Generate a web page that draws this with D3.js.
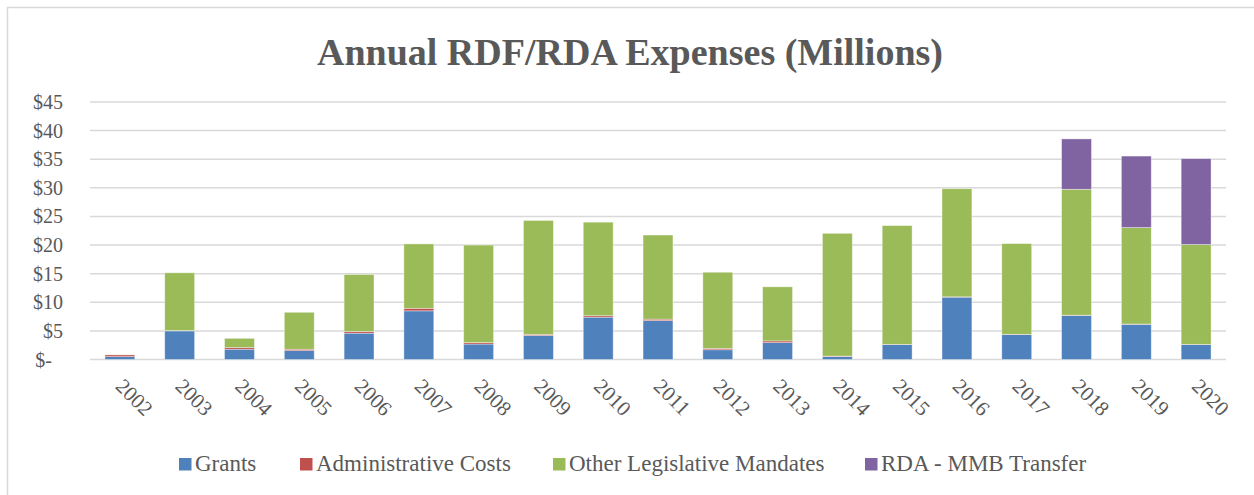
<!DOCTYPE html>
<html>
<head>
<meta charset="utf-8">
<script src="https://cdn.jsdelivr.net/npm/d3@7"></script>
<style>
  body { margin: 0; background: #fff; }
  text { font-family: "Liberation Serif", "DejaVu Serif", serif; fill: #595959; }
</style>
</head>
<body>
<div id="chart"></div>
<script>
// Dữ liệu (triệu đô la)
const years = ["2002","2003","2004","2005","2006","2007","2008","2009","2010","2011",
               "2012","2013","2014","2015","2016","2017","2018","2019","2020"];
const grants = [0.5, 5.0, 1.8, 1.55, 4.6, 8.5, 2.7, 4.2, 7.4, 6.8, 1.7, 2.95, 0.5, 2.6, 10.9, 4.35, 7.7, 6.15, 2.6];
const adminCosts = [0.3, 0.05, 0.3, 0.25, 0.3, 0.45, 0.25, 0.2, 0.25, 0.25, 0.25, 0.3, 0.1, 0.05, 0.05, 0.05, 0.05, 0.05, 0.05];
const otherMandates = [0, 10.1, 1.6, 6.45, 9.95, 11.25, 17.05, 19.9, 16.35, 14.7, 13.3, 9.45, 21.45, 20.75, 18.9, 15.85, 22.0, 16.85, 17.45];
const mmbTransfer = [0, 0, 0, 0, 0, 0, 0, 0, 0, 0, 0, 0, 0, 0, 0, 0, 8.8, 12.5, 15.0];
const yTicks = [0, 5, 10, 15, 20, 25, 30, 35, 40, 45];

const seriesNames = ["Grants", "Administrative Costs", "Other Legislative Mandates", "RDA - MMB Transfer"];
const colors = ["#4F81BD", "#C0504D", "#9BBB59", "#8064A2"];

const rows = years.map((y, i) => ({
    year: y,
    "Grants": grants[i],
    "Administrative Costs": adminCosts[i],
    "Other Legislative Mandates": otherMandates[i],
    "RDA - MMB Transfer": mmbTransfer[i]
}));

const W = 1254, H = 495;
const plot = { left: 90, right: 1226, top: 102, bottom: 359.5 };

const svg = d3.select("#chart").append("svg")
    .attr("width", W).attr("height", H);

// khung biểu đồ
svg.append("rect")
    .attr("x", 7.5).attr("y", 7.5)
    .attr("width", W + 10).attr("height", H + 10)
    .attr("fill", "none").attr("stroke", "#d9d9d9").attr("stroke-width", 1.5);

const x = d3.scaleBand()
    .domain(years)
    .range([plot.left, plot.right])
    .paddingInner(0.5)
    .paddingOuter(0.25);

const y = d3.scaleLinear()
    .domain([0, 45])
    .range([plot.bottom, plot.top]);

// lưới ngang
svg.append("g")
    .selectAll("line")
    .data(yTicks)
    .enter().append("line")
    .attr("x1", plot.left).attr("x2", plot.right)
    .attr("y1", d => y(d)).attr("y2", d => y(d))
    .attr("stroke", "#d9d9d9").attr("stroke-width", 1.5);

// nhãn trục Y
svg.append("g")
    .selectAll("text")
    .data(yTicks)
    .enter().append("text")
    .attr("x", d => d === 0 ? 52 : 63)
    .attr("y", d => y(d))
    .attr("dy", "0.35em")
    .attr("text-anchor", "end")
    .style("font-size", "20px")
    .text(d => d === 0 ? "$-" : "$" + d);

// các cột chồng
const stacked = d3.stack().keys(seriesNames)(rows);

svg.append("g")
    .selectAll("g")
    .data(stacked)
    .enter().append("g")
    .attr("fill", (d, i) => colors[i])
    .selectAll("rect")
    .data(d => d.filter(p => p[1] - p[0] > 0))
    .enter().append("rect")
    .attr("x", d => x(d.data.year))
    .attr("y", d => y(d[1]))
    .attr("width", x.bandwidth())
    .attr("height", d => y(d[0]) - y(d[1]))
    .attr("stroke", "#ffffff")
    .attr("stroke-opacity", 0.5)
    .attr("stroke-width", 0.75);

// nhãn trục X xoay 45 độ
svg.append("g")
    .selectAll("text")
    .data(years)
    .enter().append("text")
    .attr("transform", d => `translate(${x(d) + x.bandwidth() / 2 - 1}, 383) rotate(45)`)
    .attr("dy", "0.3em")
    .attr("text-anchor", "start")
    .style("font-size", "21px")
    .text(d => d);

// tiêu đề
svg.append("text")
    .attr("x", 630)
    .attr("y", 65)
    .attr("text-anchor", "middle")
    .style("font-size", "38px")
    .style("font-weight", "bold")
    .text("Annual RDF/RDA Expenses (Millions)");

// chú giải
const legendX = [179, 300, 553, 865];
const legend = svg.append("g")
    .selectAll("g")
    .data(seriesNames)
    .enter().append("g")
    .attr("transform", (d, i) => `translate(${legendX[i]}, 458)`);

legend.append("rect")
    .attr("width", 12.5).attr("height", 12.5)
    .attr("fill", (d, i) => colors[i]);

legend.append("text")
    .attr("x", 16)
    .attr("y", 13)
    .style("font-size", "23px")
    .text(d => d);
</script>
</body>
</html>
